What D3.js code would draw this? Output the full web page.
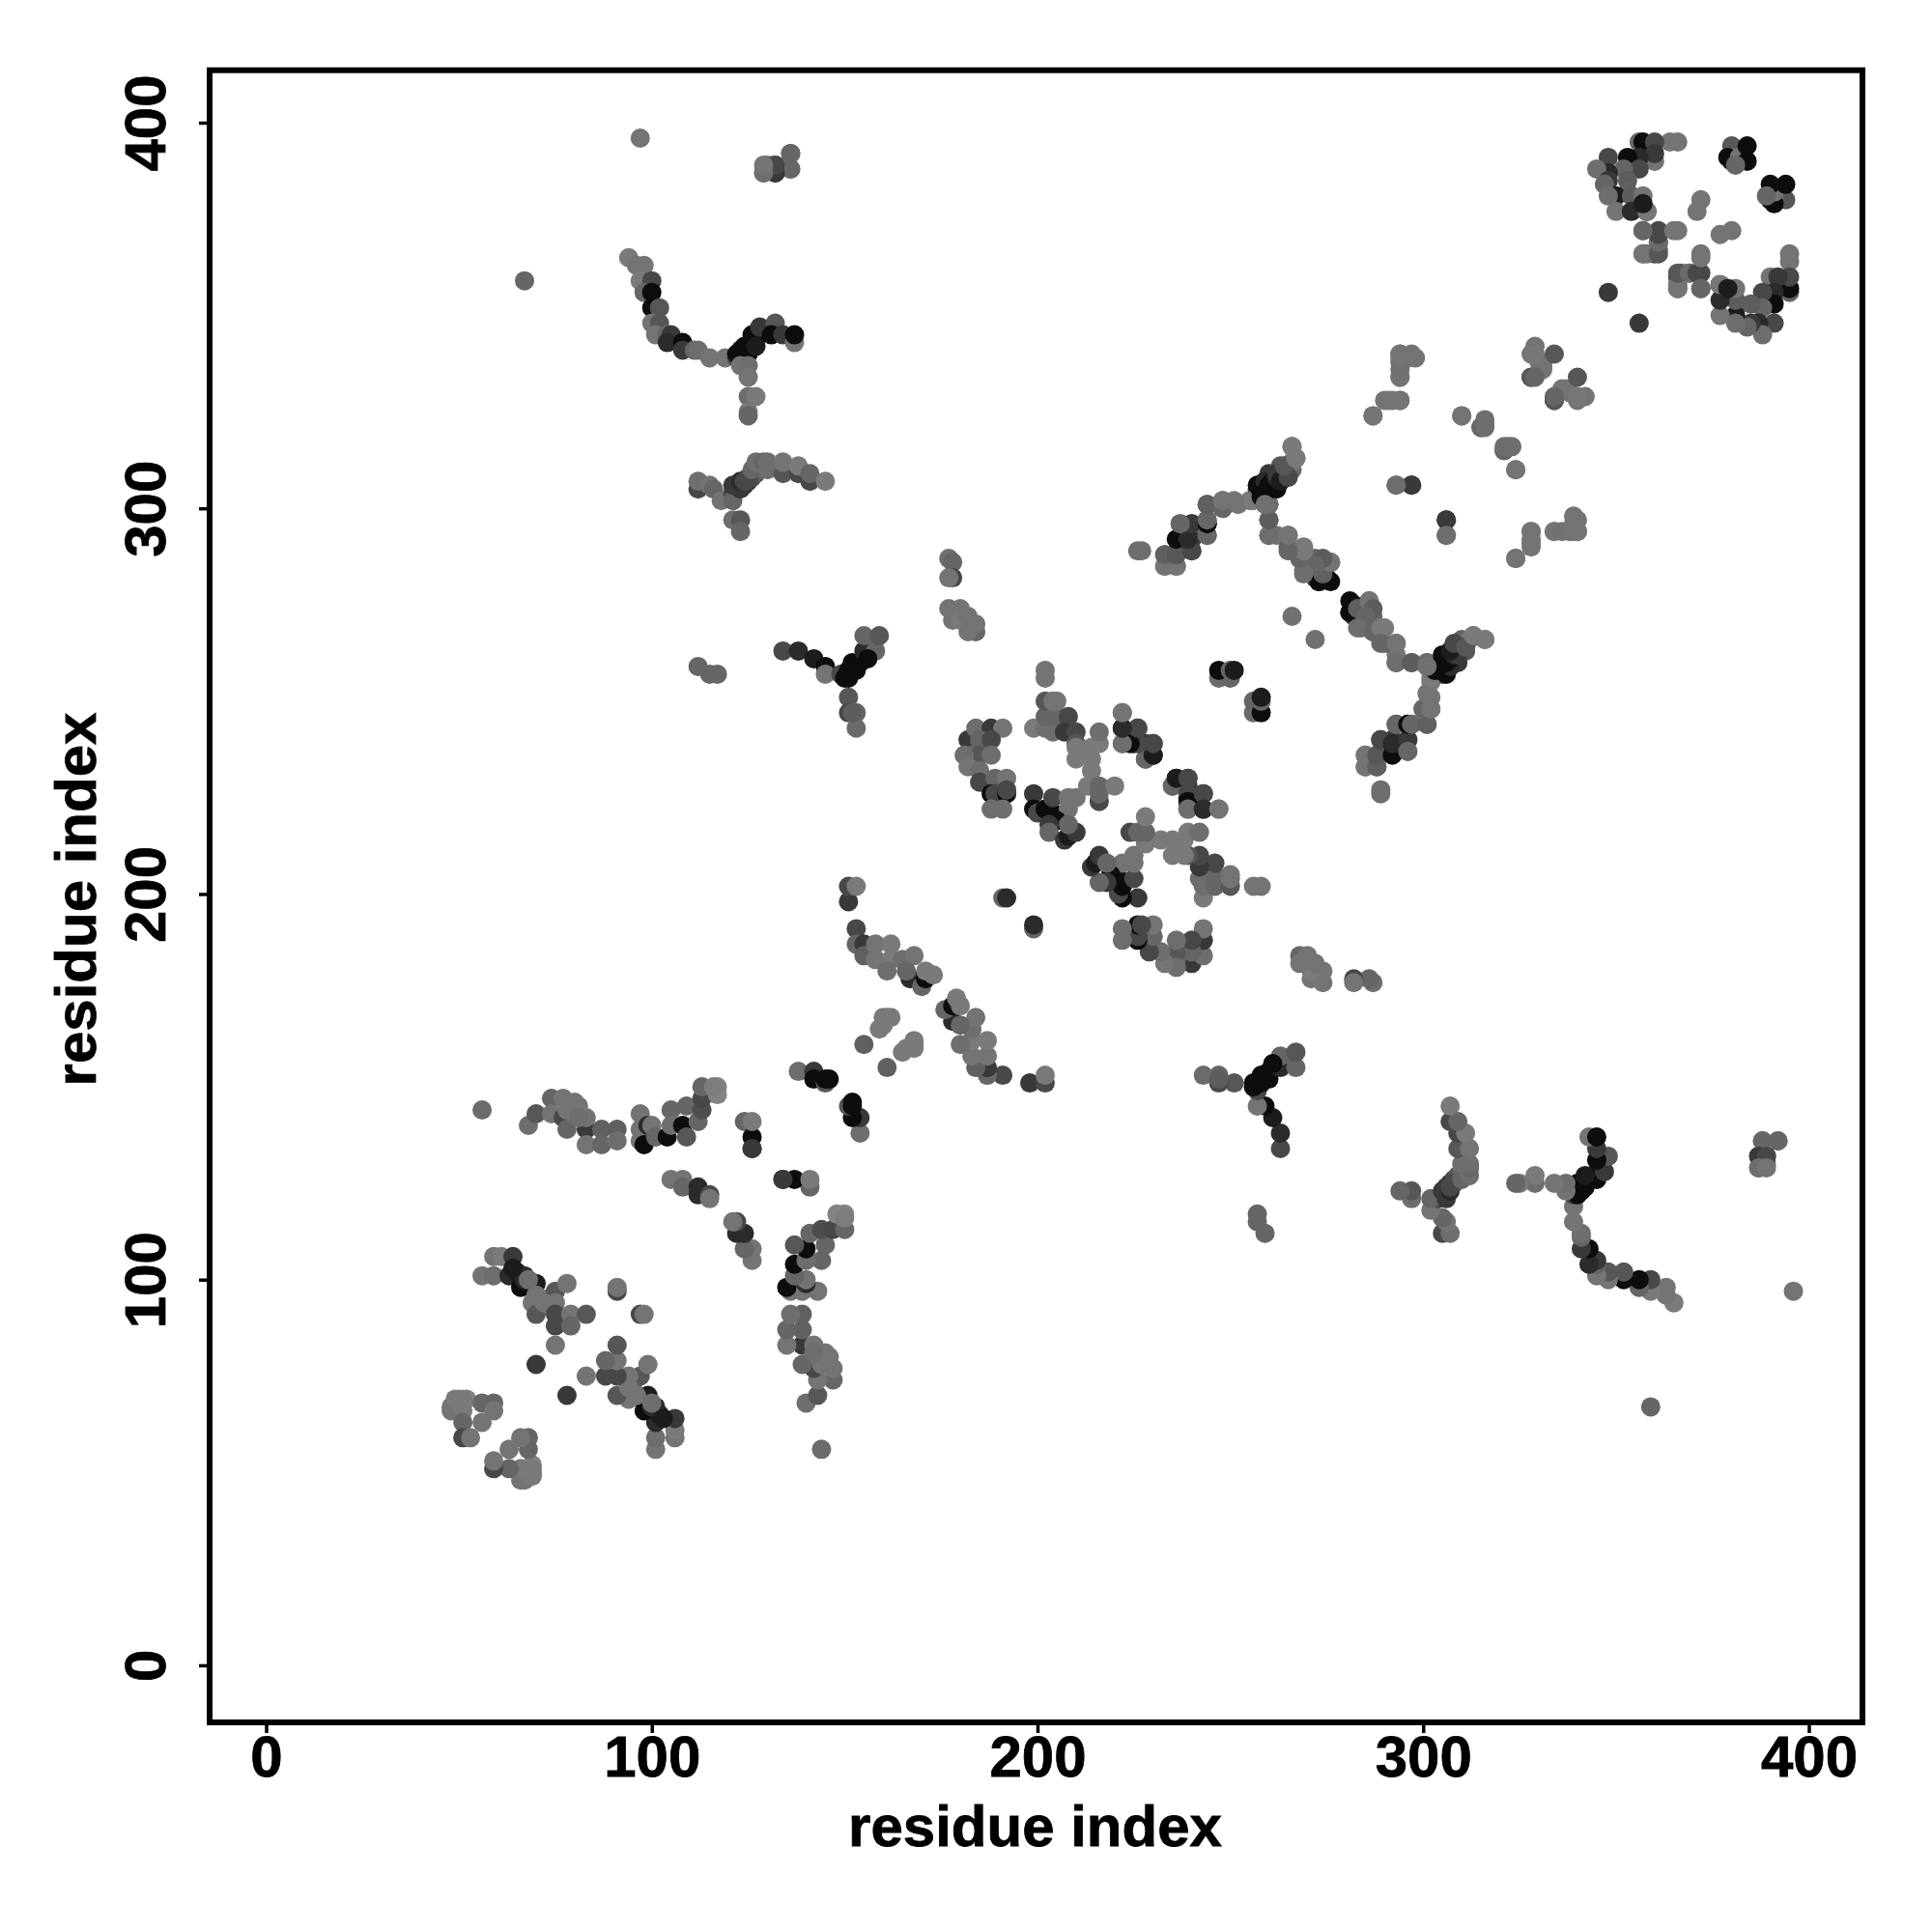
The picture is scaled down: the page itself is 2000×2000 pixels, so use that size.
<!DOCTYPE html>
<html>
<head>
<meta charset="utf-8">
<script src="https://cdn.jsdelivr.net/npm/d3@7"></script>
<style>html,body{margin:0;padding:0;background:#fff}</style>
</head>
<body>
<svg id="chart" width="2000" height="2000"></svg>
<script>
// Residue contact map: each contact [i, j, strength] is plotted at (i,j) and (j,i).
const xTickValues = [0, 100, 200, 300, 400];
const yTickValues = [0, 100, 200, 300, 400];
const xTitle = "residue index";
const yTitle = "residue index";

const loop50s = [[48,67,1.5],[48,66,1.5],[49,67,1.5],[49,69,1.3],[50,68,1.3],[50,69,1.3],[52,69,1],[51,66,1.3],[51,63,2],[51,69,1.3],[56,68,2],[59,68,2],[59,66,1.5],[56,63,1.5],[51,59,3],[53,59,1.5]];
const arm60to80 = [[56,101,1.5],[59,106,1.5],[59,101,1.7],[61,106,1.3],[64,106,3.5],[63,101,4],[65,102,4.5],[67,101,4],[66,98,5],[69,98,5],[70,99,4.5],[70,96,1.5],[72,95,1.5],[75,97,2.5],[78,99,1.5],[69,94,1.5],[70,91,2.5],[72,94,1.5],[75,94,1.5],[75,91,3],[75,88,3],[79,91,1.5],[79,88,2],[83,91,2.5],[75,83,1.5],[70,78,3.5],[91,97,3],[91,98,1.5],[67,100,4],[68,100,1.7],[64,103,4.5]];
const row135to150 = [[56,144,1.8],[68,140,1.7],[70,143,2.5],[74,147,2],[74,143,1.5],[77,142,3],[77,147,1.5],[80,146,1.5],[78,144,1.5],[78,139,2],[83,139,3.5],[83,142,1.5],[80,143,1.5],[81,145,1.5],[81,142,1.7],[83,135,1.5],[87,139,2.2],[87,135,2],[91,139,2.2],[91,136,1.7],[97,143,1.5],[97,139,1.5],[97,136,1.5],[99,140,4],[98,135,5],[100,140,1.5],[101,137,2],[104,137,5],[105,144,2],[105,140,1.7],[108,140,5],[109,137,2.5],[109,145,2],[112,141,2],[113,144,2.8],[113,147,3],[113,150,2],[117,150,1],[117,148,1],[116,150,1.2]];
const row105to145 = [[105,126,1.5],[108,126,1.5],[108,124,2],[112,124,4],[112,122,4],[115,122,3],[115,121,1.5],[124,141,2],[126,137,5],[126,134,4.5],[126,134,3.5],[126,141,1.3]];
const arc138to154 = [[138,154,1.7],[142,154,3.5],[142,152,5],[145,151,2.5],[145,152,5],[146,152,5]];
const cluster150to175 = [[153,191,3],[153,187,2],[155,187,3.5],[155,184,2.2],[158,187,1.5],[158,183,1.5],[162,187,1.3],[162,183,1.3],[161,180,1.7],[165,183,1.7],[168,184,1.5],[167,178,4],[170,176,2],[171,178,5],[166,180,2],[171,180,1.3],[173,179,1.3],[151,198,3.5],[151,202,3],[153,202,1.3]];
const inner155to168 = [[155,161,2.2],[159,165,1.3],[160,166,1.3],[160,168,1.3],[161,168,1.3],[162,168,1.3]];
const cluster182to192 = [[182,240,3.5],[184,243,1.7],[188,243,3.5],[191,243,1.5],[185,240,2],[188,240,3],[183,236,2],[185,236,2.5],[188,236,1.7],[181,236,1.7],[182,233,1.5],[185,232,1.7],[185,229,3],[189,230,2],[192,230,1.5],[188,226,5],[189,226,3],[192,226,5],[192,227,3],[188,222,1.7],[191,222,1.7],[191,199,2],[192,199,4]];
const cluster198to210 = [[199,243,1.3],[202,243,1.7],[204,242,1.7],[202,246,2],[203,246,2],[205,246,2],[202,250,2.5],[204,250,1.5],[205,250,1.5],[202,256,1.5],[202,258,1.5],[208,246,3],[207,242,3.5],[210,242,3],[199,226,3.5],[199,222,5],[200,221,3],[202,222,5],[204,221,5],[204,225,3],[208,225,1.5],[210,225,1.5],[208,222,1.5],[205,219,5],[203,218,3.5],[203,216,2],[207,214,3.5],[208,215,4.5],[210,216,3.5],[208,218,2]];
const cluster210to247 = [[210,239,2.5],[210,238,1.3],[210,235,1.3],[214,238,1.3],[216,239,1.3],[216,242,1.7],[214,235,1.3],[214,232,1.3],[213,228,1.3],[216,228,2],[216,224,3],[216,226,2],[220,228,1.3],[222,247,1.3],[222,243,4.5],[222,239,1.5],[226,243,3],[225,239,5],[228,239,3.5],[230,239,3.5],[230,236,4.5],[228,235,2],[235,228,2],[236,230,4.5],[239,230,3],[239,226,3],[239,224,5],[239,222,1.7],[243,226,3],[243,222,4],[247,222,1.5]];
const arm226to270 = [[227,289,1.7],[233,288,1.7],[233,285,1.5],[236,285,1.5],[236,288,2],[240,289,3],[237,292,4.5],[240,292,3.5],[237,296,1.8],[240,296,3],[244,293,2],[244,296,5],[244,297,2.2],[244,301,2.5],[248,300,2.5],[248,302,1.7],[251,302,1.5],[255,302,1.3],[257,305,3],[258,305,4.5],[258,306,5],[259,305,5],[260,307,5],[261,308,4],[262,309,3.5],[259,307,4.5],[260,305,4],[260,309,3.5],[262,307,3],[263,311,2.5],[266,310,2],[266,312,1.5],[267,313,1.3],[266,316,1.3],[260,301,2.2],[260,297,2.2],[260,293,1.5],[262,293,1.5],[265,293,1.3],[265,290,2.2],[269,290,1.3],[268,287,1.7],[269,284,1.5],[272,287,2],[273,286,2],[272,282,3],[272,283,2],[273,281,5],[275,282,5],[276,286,1.3]];
const arm281to316 = [[281,276,5],[281,273,5],[283,274,2.2],[286,276,1.5],[287,274,2.3],[285,272,2],[283,269,1.7],[287,268,2],[289,269,1.3],[289,265,2],[293,265,1.5],[293,260,1.7],[297,260,2.3],[301,260,1.8],[285,233,1.5],[285,236,1.5],[288,233,2.2],[288,236,2.5],[289,240,3],[292,236,5],[292,239,4],[296,240,3.5],[296,237,2],[293,244,2],[296,244,5],[297,244,2],[301,244,2.2],[300,248,2],[302,248,1.5],[301,252,1.5],[302,256,1.3],[289,226,1.7],[304,258,4],[306,257,5],[307,259,4],[305,262,5],[303,258,5],[304,259,5],[306,260,5],[307,261,5],[308,262,4],[309,263,3],[310,264,3.5],[309,262,3.5],[307,263,4.5],[308,265,3],[311,264,2.5],[313,267,1.3],[316,266,1.3],[301,259,1.6]];
const sparse287to342 = [[266,272,1.6],[293,306,1.5],[297,306,3.5],[306,297,3.5],[306,293,1.7],[287,324,1.5],[290,328,1.5],[292,328,1.5],[294,328,1.5],[294,334,1.5],[294,338,2],[294,340,2],[296,339,1.5],[310,324,1.5],[315,321,1.6],[316,322,1.5],[321,315,2],[321,316,1.7],[323,316,1.7],[324,310,1.5],[324,287,1.5],[328,294,1.5],[328,291,1.5],[334,294,1.5],[336,294,1.6],[339,294,1.5],[339,298,1.5],[340,294,1.5],[340,297,1.5],[329,342,1.5],[328,340,1.5],[330,338,1.5],[331,337,1.5],[334,340,2.5],[328,334,3],[334,328,2.5],[331,336,1.5],[334,329,2],[329,340,1.4]];
const cornerTopRight = [[348,356,3.5],[366,395,1.5],[364,395,1.5],[356,395,2],[357,395,5],[360,395,3],[360,390,1.5],[360,392,3.5],[356,391,4],[353,391,5],[348,391,3],[356,388,3],[352,388,2],[348,387,4],[345,388,1.7],[348,385,3.5],[347,384,2],[353,385,2.3],[353,382,2.2],[350,381,4.5],[348,381,1.7],[354,381,2.3],[350,377,1.5],[354,377,4],[358,377,5],[357,381,1.5],[358,377,1.4],[357,379,4.5],[372,380,1.5],[371,377,1.5],[357,372,1.7],[361,372,3],[366,372,1.5],[361,369,2],[357,366,1.5],[360,366,3],[361,367,2],[358,366,1.6],[357,366,1.5],[361,366,2.5],[361,369,1.8],[361,371,3],[365,372,1.5],[357,372,2],[380,394,2.5],[380,391,1.5],[379,391,5],[380,390,5],[382,391,1.5],[384,394,5],[384,390,5],[389,381,2]];
const arm97to137 = [[94,365,1.3],[96,363,1.5],[98,363,1.5],[97,359,1.3],[100,359,3],[98,356,2],[100,356,5],[100,352,5],[102,352,2.5],[100,348,1.5],[102,348,2.5],[101,345,1.5],[104,345,2],[105,345,3.5],[104,343,4],[108,343,5],[108,341,3.5],[111,341,2],[112,341,1.7],[115,339,1.5],[119,339,1.5],[122,339,3],[122,340,5],[123,341,5],[123,339,5],[124,340,5],[125,340,5],[124,342,5],[125,342,5],[126,343,5],[127,344,5],[126,345,5],[127,342,4.5],[128,347,3.5],[132,348,2.5],[131,345,5],[134,345,3.5],[137,343,1.5],[137,345,5],[123,337,1.5],[125,337,1.7],[125,334,1.5],[125,329,1.7],[127,329,1.3],[125,325,1.4],[125,324,2]];
const arm112to145 = [[112,305,3],[112,307,1.7],[115,306,1.5],[116,305,2],[118,302,1.5],[121,304,3],[121,302,2],[121,297,1.7],[123,297,2.5],[123,294,2],[121,306,3.5],[123,305,3.5],[124,306,3.5],[125,307,3.5],[126,308,3],[127,309,2.5],[128,310,2],[123,307,4],[124,307,3],[125,308,3],[126,310,2],[127,312,1.7],[129,312,2],[130,310,1.7],[130,312,1.7],[134,309,2.5],[134,312,1.5],[138,309,3],[138,311,1.3],[141,307,3],[141,309,2],[145,307,1.3]];
const sparseTopLeft = [[97,396,1.5],[67,359,2],[129,387,1.7],[130,389,1.5],[132,389,3.5],[132,387,3.5],[136,392,2],[136,388,1.5],[112,259,2],[115,257,2],[117,257,2],[136,388,2],[136,392,2],[132,387,3.5],[132,389,3],[129,387,1.7],[129,389,1.5]];
const armY134to158 = [[134,263,3],[138,263,4],[142,261,4.5],[145,259,5],[145,257,1.5],[149,257,3],[150,256,5],[151,258,5],[152,258,5],[152,260,5],[153,259,5],[154,260,5],[155,261,5],[156,262,3],[155,263,4],[158,263,2],[158,266,2],[155,267,2],[159,267,2.5],[151,251,2.5],[151,247,3],[153,247,2],[153,243,1.8],[152,247,2.3],[151,256,5],[153,258,5],[156,261,5]];
const column177to184 = [[177,287,1.7],[178,286,2],[178,282,3],[177,282,1.5],[177,274,1.5],[180,274,1.5],[178,271,1.5],[180,271,1.3],[182,272,1.5],[184,268,2],[182,268,1.5],[184,270,1.5]];
const darkPairs = [[247,256,1.8],[250,256,2],[247,258,5],[250,258,2],[251,258,4.5]];

const contacts = [].concat(loop50s, arm60to80, row135to150, row105to145, arc138to154, cluster150to175, inner155to168, cluster182to192, cluster198to210, cluster210to247, arm226to270, arm281to316, sparse287to342, cornerTopRight, arm97to137, arm112to145, sparseTopLeft, armY134to158, column177to184, darkPairs);

const x = d3.scaleLinear().domain([-14.65, 413.9]).range([217, 1928]);
const y = d3.scaleLinear().domain([-14.8, 413.6]).range([1783, 72.7]);
const shade = d3.scaleLinear().domain([1, 5]).range(["#838383", "#0d0d0d"]);

const svg = d3.select("#chart");
const font = "'Liberation Sans', Arial, sans-serif";

svg.append("g").selectAll("circle")
  .data(contacts.flatMap(c => [[c[0], c[1], c[2]], [c[1], c[0], c[2]]]))
  .join("circle")
  .attr("cx", d => x(d[0]))
  .attr("cy", d => y(d[1]))
  .attr("r", 10)
  .attr("fill", d => shade(d[2]));

svg.append("rect")
  .attr("x", 217).attr("y", 72.7)
  .attr("width", 1711).attr("height", 1710.3)
  .attr("fill", "none").attr("stroke", "#000").attr("stroke-width", 6);

const xAxis = svg.append("g").attr("transform", "translate(0,1783)")
  .call(d3.axisBottom(x).tickValues(xTickValues).tickSize(11).tickPadding(12));
const yAxis = svg.append("g").attr("transform", "translate(217,0)")
  .call(d3.axisLeft(y).tickValues(yTickValues).tickSize(11));
xAxis.select(".domain").remove();
yAxis.select(".domain").remove();
svg.selectAll(".tick line").attr("stroke", "#000").attr("stroke-width", 3.5);
xAxis.selectAll("text")
  .attr("dy", null).attr("y", 55.6)
  .attr("font-family", font).attr("font-weight", "bold").attr("font-size", 60).attr("fill", "#000")
  .attr("stroke", "#000").attr("stroke-width", 0.8);
yAxis.selectAll("text")
  .attr("x", null).attr("dy", null)
  .attr("text-anchor", "middle")
  .attr("transform", "translate(-46,0) rotate(-90)")
  .attr("font-family", font).attr("font-weight", "bold").attr("font-size", 60).attr("fill", "#000")
  .attr("stroke", "#000").attr("stroke-width", 0.8);

svg.append("text").text(xTitle)
  .attr("x", 1071.5).attr("y", 1910.7)
  .attr("text-anchor", "middle")
  .attr("font-family", font).attr("font-weight", "bold").attr("font-size", 60).attr("fill", "#000")
  .attr("stroke", "#000").attr("stroke-width", 0.8);
svg.append("text").text(yTitle)
  .attr("transform", "translate(99,931) rotate(-90)")
  .attr("text-anchor", "middle")
  .attr("font-family", font).attr("font-weight", "bold").attr("font-size", 60).attr("fill", "#000")
  .attr("stroke", "#000").attr("stroke-width", 0.8);
</script>
</body>
</html>
